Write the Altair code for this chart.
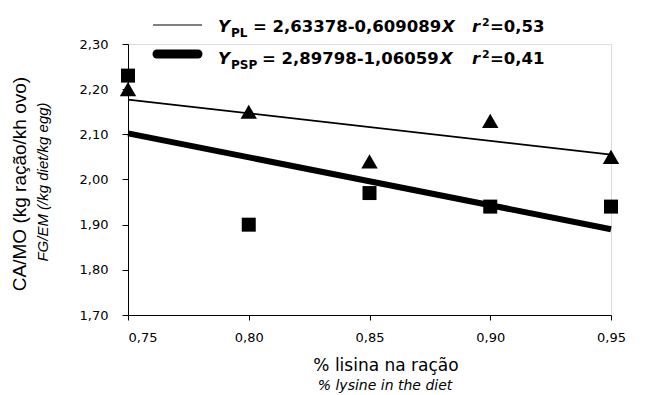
import altair as alt
import pandas as pd

# ---- data ----
lysine = [0.75, 0.80, 0.85, 0.90, 0.95]
fg_pl = [2.20, 2.15, 2.04, 2.13, 2.05]      # triangles
fg_psp = [2.23, 1.90, 1.97, 1.94, 1.94]     # squares
fit_x = [0.75, 0.95]
fit_pl = [2.177, 2.055]
fit_psp = [2.102, 1.890]
x_ticks = [0.75, 0.80, 0.85, 0.90, 0.95]
y_ticks = [1.70, 1.80, 1.90, 2.00, 2.10, 2.20, 2.30]

legend_sub = ["PL", "PSP"]
legend_eq = ["= 2,63378-0,609089", "= 2,89798-1,06059"]
legend_r2 = ["=0,53", "=0,41"]

y_title = "CA/MO (kg ração/kh ovo)"
y_subtitle = "FG/EM (/kg diet/kg egg)"
x_title = "% lisina na ração"
x_subtitle = "% lysine in the diet"

pts = pd.DataFrame({"x": lysine * 2, "y": fg_pl + fg_psp,
                    "g": ["PL"] * len(lysine) + ["PSP"] * len(lysine)})
fit = pd.DataFrame({"x": fit_x * 2, "y": fit_pl + fit_psp,
                    "g": ["PL"] * 2 + ["PSP"] * 2})
one = pd.DataFrame({"k": [0]})

FH = "DejaVu Sans"
FV = "Liberation Sans"

lab = "replace(format(datum.value, '.2f'), '.', ',')"
xs = alt.Scale(domain=[0.75, 0.95], nice=False, zero=False)
ys = alt.Scale(domain=[1.70, 2.30], nice=False, zero=False)

xaxis = alt.Axis(values=x_ticks, labelExpr=lab, title=None, grid=False,
                 tickSize=5, labelPadding=11, labelFont=FH, labelFontSize=13,
                 labelColor="black", domainColor="black", tickColor="black",
                 labelAlign={"condition": {"test": "datum.value < 0.76", "value": "left"},
                             "value": "center"})
yaxis = alt.Axis(values=y_ticks, labelExpr=lab, title=None, grid=False,
                 tickSize=6, labelPadding=14, labelFont=FH, labelFontSize=13,
                 labelColor="black", domainColor="black", tickColor="black")

X = alt.X("x:Q", scale=xs, axis=xaxis)
Y = alt.Y("y:Q", scale=ys, axis=yaxis)

line_pl = alt.Chart(fit).transform_filter("datum.g == 'PL'").mark_line(
    color="black", strokeWidth=1.8).encode(x=X, y=Y)
line_psp = alt.Chart(fit).transform_filter("datum.g == 'PSP'").mark_line(
    color="black", strokeWidth=6).encode(x=X, y=Y)
tri = alt.Chart(pts).transform_filter("datum.g == 'PL'").mark_point(
    shape="triangle-up", filled=True, size=270, color="black", opacity=1).encode(x=X, y=Y)
sq = alt.Chart(pts).transform_filter("datum.g == 'PSP'").mark_square(
    size=196, color="black", opacity=1).encode(x=X, y=Y)

# legend (positions in plot pixels; plot origin at (128, 44))
leg_thin = alt.Chart(one).mark_rule(color="black", strokeWidth=1).encode(
    x=alt.value(25), x2=alt.value(74), y=alt.value(-19))
leg_thick = alt.Chart(one).mark_rule(color="black", strokeWidth=9, strokeCap="round").encode(
    x=alt.value(29), x2=alt.value(70), y=alt.value(10))


def txt(s, x, y, size, font=FH, weight="bold", style="normal", align="left", angle=0,
        baseline="alphabetic"):
    return alt.Chart(one).mark_text(
        align=align, baseline=baseline, font=font, fontSize=size, fontWeight=weight,
        fontStyle=style, color="black", angle=angle).encode(
        x=alt.value(x), y=alt.value(y), text=alt.value(s))


legend_layers = []
for i, (dy, eqx, xx) in enumerate([(-12, 125, 314), (20, 134, 312)]):
    legend_layers += [
        txt("Y", 90, dy, 16.5, style="italic"),
        txt(legend_sub[i], 103, dy + 5, 12),
        txt(legend_eq[i], eqx, dy, 16.5),
        txt("X", xx, dy, 16.5, style="italic"),
        txt("r", 344, dy, 16.5, style="italic"),
        txt("2", 354, dy - 6, 11),
        txt(legend_r2[i], 362, dy, 16.5),
    ]

titles = [
    txt(y_title, -102, 140, 19, font=FV, weight="normal", align="center", angle=270),
    txt(y_subtitle, -80, 138, 15, font=FV, weight="normal", style="italic",
        align="center", angle=270),
    txt(x_title, 258, 327, 17, weight="normal", align="center"),
    txt(x_subtitle, 257, 346, 14, weight="normal", style="italic", align="center"),
]

chart = alt.layer(line_pl, line_psp, tri, sq, leg_thin, leg_thick,
                  *legend_layers, *titles).properties(
    width=483, height=271,
    autosize=alt.AutoSizeParams(type="none"),
    padding={"left": 128, "top": 44, "right": 39, "bottom": 80},
).configure_view(stroke=None).configure(background="white")

chart.save("out.html", embed_options={"renderer": "svg", "actions": False})
